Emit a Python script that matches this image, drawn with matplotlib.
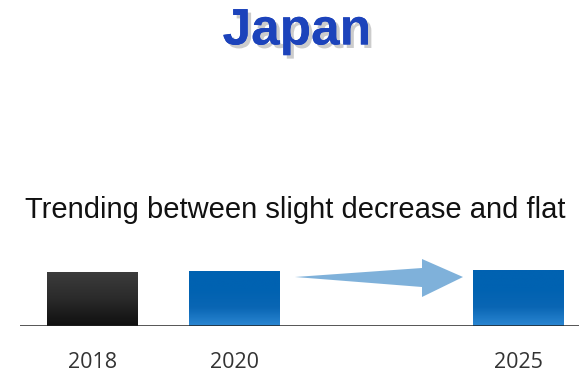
import matplotlib
matplotlib.use("Agg")
import matplotlib.pyplot as plt
import matplotlib.patheffects as pe
import numpy as np
from matplotlib.colors import LinearSegmentedColormap
from matplotlib.patches import Polygon

years = ["2018", "2020", "2025"]
slots = [0, 1, 3]
values = [56, 57, 58]
title = "Japan"
subtitle = "Trending between slight decrease and flat"

W, H = 579, 377
fig = plt.figure(figsize=(W / 100, H / 100), dpi=100)

# axes: bottom at y=326 px, 96 px tall, spanning x 20..579
ax = fig.add_axes([20 / W, (H - 326) / H, (W - 20) / W, 96 / H])

black_cm = LinearSegmentedColormap.from_list("blk", ["#101010", "#2a2a2a", "#3c3c3c"])
blue_cm = LinearSegmentedColormap.from_list("blu", ["#2a86d2", "#0a66b4", "#0062b1", "#0062b1"])

bars = ax.bar(slots, values, width=0.64, color="none", edgecolor="none")
grad = np.linspace(0, 1, 100).reshape(-1, 1)
for i, b in enumerate(bars):
    cm = black_cm if i == 0 else blue_cm
    x0, y0 = b.get_x(), b.get_y()
    im = ax.imshow(grad, cmap=cm, origin="lower", aspect="auto",
                   extent=[x0, x0 + b.get_width(), y0, y0 + b.get_height()], zorder=2)
    im.set_clip_path(b)

ax.set_xlim(-0.51, 3.43)
ax.set_ylim(0, 100)
ax.axhline(0, color="#222222", lw=1.8, zorder=3)
for s in ax.spines.values():
    s.set_visible(False)
ax.set_yticks([])
ax.set_xticks(slots)
ax.set_xticklabels(years, fontsize=15.5, color="#333333", family="Open Sans")
ax.tick_params(axis="x", length=0, pad=19)

# arrow from 2020 toward 2025 (figure pixels)
pts = [(295, 277), (422, 268), (422, 259), (463, 277), (422, 297), (422, 287)]
arrow = Polygon([(x / W, 1 - y / H) for x, y in pts], closed=True,
                transform=fig.transFigure, facecolor="#7fb1da", edgecolor="none")
fig.patches.append(arrow)

fig.text(297 / W, 1 - 31 / H, title, ha="center", va="center", fontsize=37,
         fontweight="bold", color="#1c43bb", family="Liberation Sans",
         path_effects=[pe.withSimplePatchShadow(offset=(2.5, -2.5), shadow_rgbFace="#aaaaaa", alpha=0.6),
                       pe.Normal()])
fig.text(295 / W, 1 - 210 / H, subtitle, ha="center", va="center", fontsize=21,
         color="#111111", family="Liberation Sans")

fig.savefig("out.png", dpi=100)
